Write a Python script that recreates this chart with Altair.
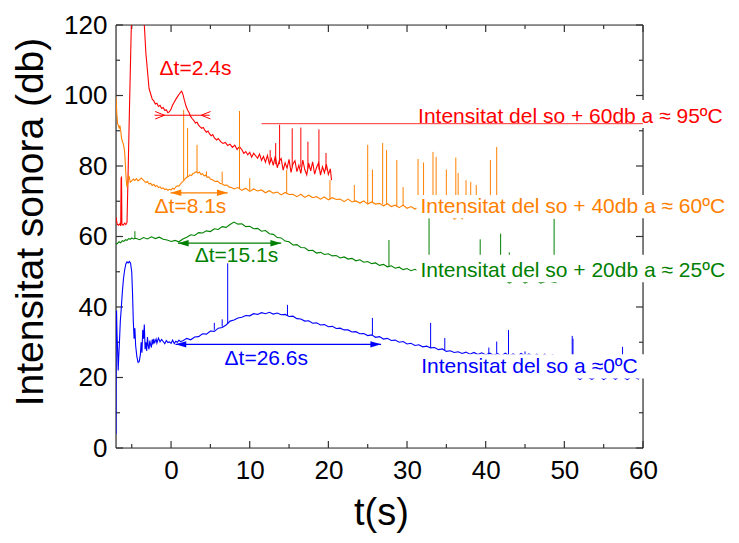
import altair as alt
import pandas as pd

# ---------------- data ----------------
# red: sound intensity + 60 dB at ~95 C
red_t = [-7.0, -6.85, -6.7, -6.5, -6.4, -6.35, -6.3, -6.25, -6.1, -5.9,
         -5.75, -5.6, -5.5, -5.3, -5.1, -4.9, -3.6, -3.4, -3.2, -3.0,
         -2.8, -2.6, -2.4, -2.2, -2.0, -1.8, -1.6, -1.4, -1.2, -1.0,
         -0.8, -0.6, -0.4, -0.2, 0.0, 0.2, 0.4, 0.6, 0.8, 1.0,
         1.2, 1.35, 1.5, 1.7, 1.9, 2.1, 2.3, 2.5, 2.7, 2.9,
         3.1, 3.3, 3.5, 3.7, 3.9, 4.1, 4.3, 4.5, 4.7, 4.9,
         5.1, 5.3, 5.5, 5.8, 6.0, 6.3, 6.6, 6.9, 7.2, 7.5,
         7.8, 8.1, 8.4, 8.7, 20.4]
red_y = [65.5, 63.5, 63.2, 63.6, 63.0, 76.5, 77.0, 63.5, 63.2, 63.8,
         63.4, 64.0, 74.0, 95.0, 115.0, 135.0, 135.0, 120.0, 112.0, 107.0,
         102.0, 100.5, 99.0, 98.5, 97.6, 97.8, 96.9, 97.2, 96.3, 96.6,
         95.8, 95.9, 95.1, 95.4, 96.2, 97.3, 98.1, 98.9, 99.6, 100.3,
         100.9, 101.2, 100.4, 98.6, 97.0, 95.9, 95.1, 94.0, 93.4, 92.9,
         92.2, 92.4, 91.6, 91.1, 90.7, 90.9, 90.1, 89.6, 89.9, 89.1,
         88.6, 88.9, 88.0, 87.4, 87.8, 86.9, 86.4, 86.7, 85.8, 86.2,
         85.3, 85.9, 84.7, 85.5, 76.0]
red_start2, red_step2 = 9.0, 0.25
red_y2 = [84.6, 83.6, 84.1, 83.2, 83.9, 82.5, 83.6, 82.9, 82.2, 83.4,
          81.6, 82.7, 81.1, 83.0, 80.6, 82.1, 80.2, 82.8, 79.5, 81.4,
          82.1, 78.8, 80.9, 79.4, 81.9, 78.2, 80.6, 81.5, 78.4, 80.2,
          77.9, 81.7, 79.0, 77.5, 80.8, 78.6, 81.2, 77.7, 79.6, 80.9,
          77.4, 79.8, 78.1, 80.5, 77.6, 79.2]

# orange: + 40 dB at ~60 C
orange_t = [-7.0, -6.9, -6.8, -6.7, -6.6, -6.5, -6.4, -6.3, -6.2, -6.1,
            -6.0, -5.9, -5.8, -5.7, -5.6, -5.5, -5.4, -5.3, -5.2,
            -5.0, -4.8, -4.6, -4.4, -4.2, -4.0, -3.8, -3.6, -3.4, -3.2,
            -3.0, -2.8, -2.6, -2.4, -2.2, -2.0, -1.8, -1.6, -1.4, -1.2,
            -1.0, -0.8, -0.6, -0.4, -0.2, 0.0, 0.2, 0.4, 0.6, 0.8,
            1.0, 1.2, 1.4, 1.6, 1.8, 2.0, 2.2, 2.4, 2.6, 2.8,
            3.0, 3.2, 3.4, 3.6, 3.8, 4.0, 4.2, 4.4, 4.6, 4.8, 5.0,
            5.3, 5.6, 5.9, 6.2, 6.5, 6.8, 7.1, 7.4, 7.7]
orange_y = [99.6, 95.0, 92.0, 91.5, 90.8, 91.5, 90.0, 88.0, 87.0, 86.5,
            85.5, 84.0, 80.0, 76.0, 74.0, 75.0, 77.2, 76.8, 75.4,
            75.8, 76.3, 75.9, 76.4, 75.8, 76.1, 76.6, 76.2, 75.7, 75.3,
            75.6, 74.9, 75.1, 74.5, 74.8, 74.2, 74.5, 73.9, 74.1, 73.6,
            73.8, 73.3, 73.5, 73.1, 73.4, 73.2, 73.7, 73.4, 74.1, 74.4,
            74.3, 74.9, 75.4, 75.8, 76.4, 76.8, 77.0, 77.5, 77.3, 77.9,
            78.1, 78.4, 78.0, 78.3, 77.6, 77.8, 77.2, 77.4, 76.8, 76.9, 76.3,
            76.0, 75.6, 75.7, 75.1, 74.9, 74.5, 74.6, 74.0, 73.9]
orange_start2, orange_step2 = 8.0, 0.5
orange_y2 = [73.5, 73.9, 73.1, 73.7, 72.8, 73.5, 72.9, 73.2, 72.4, 73.0,
             72.3, 72.6, 71.8, 72.5, 71.9, 72.0, 71.3, 72.0, 71.1, 71.7,
             71.0, 71.3, 70.6, 71.2, 70.4, 71.0, 70.5, 70.6, 69.9, 70.6,
             69.8, 70.1, 69.5, 70.1, 69.2, 69.8, 69.2, 69.4, 68.7, 69.3,
             68.5, 68.9, 68.2, 68.9, 68.0, 68.5, 67.8, 68.3, 67.5, 67.9,
             67.2, 67.8, 67.0, 67.3, 66.6, 67.0, 64.9, 66.7, 65.0, 66.4,
             65.8, 66.2, 65.6, 66.0, 65.5, 65.9, 65.4, 65.7, 65.3]

# green: + 20 dB at ~25 C
green_t = [-7.0, -6.8, -6.6, -6.4, -6.2, -6.0, -5.8, -5.6, -5.4, -5.2, -5.0, -4.8]
green_y = [57.8, 58.1, 58.5, 58.2, 58.8, 58.6, 59.1, 58.9, 59.4, 59.2, 59.6, 59.3]
green_start2, green_step2 = -4.5, 0.5
green_y2 = [59.5, 59.1, 59.7, 59.3, 59.9, 59.4, 59.8, 59.2, 59.0, 58.6,
            58.9, 58.5, 59.3, 59.8, 60.5, 60.3, 61.1, 61.0, 61.6, 61.4,
            62.2, 62.0, 62.8, 62.6, 63.4, 64.1, 63.5, 63.6, 62.8, 62.9,
            62.2, 62.3, 61.5, 61.7, 60.8, 60.6, 59.7, 59.6, 58.7, 58.5,
            57.6, 57.7, 56.9, 56.8, 56.0, 56.1, 55.3, 55.5, 54.9, 55.1,
            54.5, 54.6, 53.9, 54.2, 53.6, 53.8, 53.1, 53.4, 52.7, 52.9,
            52.3, 52.5, 51.8, 52.1, 51.4, 51.7, 51.0, 51.3, 50.6, 50.9,
            50.3, 50.7, 50.1, 50.4, 49.9, 50.2, 49.6, 49.9, 49.3, 49.6,
            49.1, 49.3, 48.8, 49.0, 48.5, 48.8, 48.3, 48.6, 48.1, 48.4,
            47.9, 48.2, 47.7, 48.0, 47.5, 46.8, 47.4, 47.6, 47.6, 46.8,
            47.3, 47.5, 47.5, 46.8, 47.2, 47.4, 47.1, 46.9]

# blue: at ~0 C
blue_t = [-7.0, -6.97, -6.93, -6.88, -6.8, -6.72, -6.65, -6.55, -6.45, -6.35,
          -6.2, -6.05, -5.9, -5.75, -5.6, -5.45, -5.3, -5.15, -5.0, -4.9,
          -4.8, -4.7, -4.6, -4.5, -4.35, -4.2, -4.05, -3.9, -3.8, -3.7,
          -3.6, -3.5, -3.4, -3.3, -3.2, -3.1, -3.0, -2.9, -2.8, -2.7,
          -2.6, -2.5, -2.4, -2.3, -2.2, -2.1, -2.0, -1.9, -1.8, -1.6,
          -1.4, -1.2, -1.0, -0.8, -0.6, -0.4, -0.2, 0.0, 0.2, 0.4,
          0.6, 0.8, 1.0, 1.2]
blue_y = [4.0, 37.0, 39.0, 33.0, 28.0, 22.0, 26.0, 30.6, 36.0, 39.0,
          44.0, 48.0, 50.5, 52.2, 52.8, 52.5, 52.9, 52.4, 50.0, 44.0,
          36.0, 31.0, 34.0, 29.0, 26.0, 24.3, 24.5, 26.5, 30.0, 27.0,
          33.5, 31.0, 35.0, 28.0, 30.0, 27.5, 31.5, 29.0, 28.0, 30.5,
          29.3, 28.5, 30.8, 29.4, 31.0, 29.7, 30.4, 30.9, 29.8, 31.2,
          30.1, 30.8, 30.2, 29.6, 30.5, 29.9, 30.1, 29.7, 30.6, 29.6,
          30.3, 30.0, 30.6, 30.2]
blue_start2, blue_step2 = 1.5, 0.5
blue_y2 = [30.4, 31.1, 30.7, 31.5, 31.6, 32.4, 32.3, 33.2, 33.1, 34.0,
           34.2, 34.9, 36.0, 36.3, 36.9, 37.1, 37.6, 37.5, 38.1, 37.9,
           38.4, 38.1, 38.5, 38.0, 38.3, 37.8, 37.9, 37.3, 37.4, 36.7,
           36.6, 36.0, 36.1, 35.4, 35.5, 34.9, 35.0, 34.4, 34.5, 33.9,
           34.0, 33.5, 33.5, 32.9, 33.0, 32.4, 32.5, 31.9, 32.1, 31.4,
           31.6, 30.9, 31.1, 30.5, 30.6, 30.0, 30.2, 29.5, 29.7, 29.1,
           29.3, 28.7, 28.9, 28.4, 28.5, 27.9, 28.1, 27.4, 27.6, 27.1,
           27.3, 26.8, 27.2, 26.6, 27.1, 26.5, 27.0, 26.4, 26.9, 26.3,
           26.8, 26.2, 26.9, 26.1, 26.7, 26.0, 26.8, 26.1, 26.7, 25.9,
           26.6, 25.8, 26.6, 25.7, 26.5, 25.6, 23.0, 21.0, 20.6, 20.3,
           20.2, 19.4, 20.3, 20.1, 19.5, 20.2, 20.3, 19.4, 20.1, 20.2,
           19.5, 20.3, 20.1, 19.4, 20.2, 20.0, 19.5]

# narrow spikes: time, base, top, series colour
spike_t = [13.3, 13.8, 15.4, 16.5, 17.4, 18.8, 19.7, 12.6,
           1.6, 2.1, 3.3, 4.5, 6.5, 8.7, 10.0, 14.7, 20.2, 23.3, 25.0, 25.6,
           26.9, 27.4, 28.7, 29.5, 31.4, 32.1, 33.3, 33.7, 35.0, 36.2, 36.5,
           37.5, 38.1, 38.8, 40.6, 41.4,
           -4.6, 27.7, 32.8, 39.3, 41.9, 43.0, 48.7,
           7.2, 14.8, 25.6, 33.0, 34.8, 40.4, 41.4, 42.9, 45.0, 51.0, 51.1, 57.4,
           5.5, 6.5]
spike_base = [80.5, 80.5, 79.8, 79.6, 79.3, 79.0, 78.8, 81.0,
              76.0, 76.8, 78.2, 77.0, 75.0, 73.5, 73.1, 72.2, 70.6, 69.9, 69.3, 69.6,
              69.2, 69.2, 68.4, 68.6, 68.2, 67.7, 67.4, 67.6, 66.8, 64.9, 66.7,
              66.4, 65.9, 66.1, 65.6, 65.5,
              59.5, 51.4, 50.2, 48.4, 47.9, 47.0, 46.9,
              35.2, 37.5, 32.1, 28.4, 27.7, 26.4, 26.8, 26.2, 26.1, 20.3, 20.3, 20.0,
              33.5, 34.4]
spike_top = [86.5, 91.7, 90.7, 90.9, 86.9, 90.4, 83.7, 84.5,
             95.9, 90.8, 86.0, 78.5, 78.4, 95.6, 76.6, 78.9, 76.0, 74.6, 86.0, 79.0,
             86.5, 84.5, 81.7, 74.0, 82.0, 81.0, 84.0, 82.6, 79.0, 82.4, 78.0,
             76.0, 75.5, 74.6, 81.7, 85.4,
             61.5, 59.0, 65.2, 59.2, 60.8, 55.5, 65.0,
             52.4, 40.6, 36.9, 35.5, 31.2, 28.5, 30.2, 33.5, 27.4, 31.8, 31.0, 28.7,
             35.5, 36.5]
spike_col = (["#FF0000"] * 8 + ["#FF8000"] * 28 + ["#008000"] * 7
             + ["#0000FF"] * 12 + ["#0000FF"] * 2)

# tick values
x_major = [0, 10, 20, 30, 40, 50, 60]
x_minor = [-5, 5, 15, 25, 35, 45, 55]
y_major = [0, 20, 40, 60, 80, 100, 120]
y_minor = [10, 30, 50, 70, 90, 110]

# labels
lab_text = ["\u0394t=2.4s", "Intensitat del so + 60db a \u2248 95\u00baC",
            "\u0394t=8.1s", "Intensitat del so + 40db a \u2248 60\u00baC",
            "\u0394t=15.1s", "Intensitat del so + 20db a \u2248 25\u00baC",
            "\u0394t=26.6s", "Intensitat del so a \u22480\u00baC"]
lab_t = [-1.46, 31.4, -2.1, 31.7, 3.0, 31.7, 6.8, 31.8]
lab_y = [105.8, 92.3, 66.6, 66.6, 52.9, 48.6, 23.5, 21.2]
lab_col = ["#FF0000", "#FF0000", "#FF8000", "#FF8000",
           "#008000", "#008000", "#0000FF", "#0000FF"]

# white backgrounds behind the right-hand labels
box_t1 = [31.2, 31.2, 31.2, 31.5]
box_t2 = [72.0, 72.0, 72.0, 72.0]
box_y1 = [90.8, 65.2, 47.0, 19.7]
box_y2 = [98.7, 71.8, 54.8, 26.6]

# double arrows (delta t)
arrow_t1 = [-0.06, 0.87, 0.57]
arrow_t2 = [7.2, 14.0, 26.7]
arrow_y = [72.4, 58.1, 29.4]
arrow_col = ["#FF8000", "#008000", "#0000FF"]

# red marker line with inward chevrons, red leader line
red_bar_t = [-2.1, 4.9]
red_bar_y = 94.4
red_chev_t = [-0.83, 3.84]
red_lead_t = [11.5, 60.0]
red_lead_y = 92.0

# ---------------- build tables ----------------
def grid(start, step, vals):
    return [round(start + i * step, 4) for i in range(len(vals))]

parts = [
    pd.DataFrame({"t": red_t, "y": red_y, "s": "#FF0000"}),
    pd.DataFrame({"t": grid(red_start2, red_step2, red_y2), "y": red_y2, "s": "#FF0000"}),
    pd.DataFrame({"t": orange_t, "y": orange_y, "s": "#FF8000"}),
    pd.DataFrame({"t": grid(orange_start2, orange_step2, orange_y2), "y": orange_y2, "s": "#FF8000"}),
    pd.DataFrame({"t": green_t, "y": green_y, "s": "#008000"}),
    pd.DataFrame({"t": grid(green_start2, green_step2, green_y2), "y": green_y2, "s": "#008000"}),
    pd.DataFrame({"t": blue_t, "y": blue_y, "s": "#0000FF"}),
    pd.DataFrame({"t": grid(blue_start2, blue_step2, blue_y2), "y": blue_y2, "s": "#0000FF"}),
]
series = pd.concat(parts, ignore_index=True)
spikes = pd.DataFrame({"t": spike_t, "y": spike_base, "y2": spike_top, "s": spike_col})
labels = pd.DataFrame({"t": lab_t, "y": lab_y, "txt": lab_text, "c": lab_col})
boxes = pd.DataFrame({"t": box_t1, "t2": box_t2, "y": box_y1, "y2": box_y2})
arrows = pd.DataFrame({"t": arrow_t1, "t2": arrow_t2, "y": arrow_y, "c": arrow_col})
heads_l = pd.DataFrame({"t": arrow_t1, "y": arrow_y, "c": arrow_col})
heads_r = pd.DataFrame({"t": arrow_t2, "y": arrow_y, "c": arrow_col})
red_bar = pd.DataFrame({"t": [red_bar_t[0]], "t2": [red_bar_t[1]], "y": [red_bar_y]})
red_lead = pd.DataFrame({"t": [red_lead_t[0]], "t2": [red_lead_t[1]], "y": [red_lead_y]})
chev_l = pd.DataFrame({"t": [red_chev_t[0]], "y": [red_bar_y]})
chev_r = pd.DataFrame({"t": [red_chev_t[1]], "y": [red_bar_y]})
one = pd.DataFrame({"k": [0]})

W, H = 527, 423
AX = "#333333"
FONT = "Liberation Sans"

xscale = alt.Scale(domain=[-7, 60], nice=False, zero=False)
yscale = alt.Scale(domain=[0, 120], nice=False, zero=False)
xaxis = alt.Axis(values=x_major, labelFontSize=26, labelPadding=9, domain=False,
                 ticks=False, tickSize=0, grid=False, labelFlush=False,
                 labelColor="black", labelFont=FONT,
                 title="t(s)", titleFontSize=38, titleFontWeight="normal",
                 titleFont=FONT, titleColor="black", titleX=265, titleY=76,
                 titleBaseline="alphabetic", titleAlign="center")
yaxis = alt.Axis(values=y_major, labelFontSize=26, labelPadding=9, domain=False,
                 ticks=False, tickSize=0, grid=False, labelFlush=False,
                 labelColor="black", labelFont=FONT,
                 title="Intensitat sonora (db)", titleFontSize=39,
                 titleFontWeight="normal", titleFont=FONT, titleColor="black",
                 titleAngle=270, titleX=-74, titleY=196.5,
                 titleBaseline="alphabetic", titleAlign="center")

X = alt.X("t:Q", scale=xscale, axis=xaxis)
Y = alt.Y("y:Q", scale=yscale, axis=yaxis)

layers = []
# frame
for enc in [dict(x=alt.value(0), y=alt.value(0), y2=alt.value(H)),
            dict(x=alt.value(W), y=alt.value(0), y2=alt.value(H)),
            dict(x=alt.value(0), x2=alt.value(W), y=alt.value(0)),
            dict(x=alt.value(0), x2=alt.value(W), y=alt.value(H))]:
    layers.append(alt.Chart(one).mark_rule(color=AX, strokeWidth=1.2).encode(**enc))

# inward ticks
for vals, ln in [(x_major, 7), (x_minor, 4)]:
    d = pd.DataFrame({"t": vals})
    layers.append(alt.Chart(d).mark_rule(color=AX, strokeWidth=1.2).encode(
        x=X, y=alt.value(H), y2=alt.value(H - ln)))
    layers.append(alt.Chart(d).mark_rule(color=AX, strokeWidth=1.2).encode(
        x=X, y=alt.value(0), y2=alt.value(ln)))
for vals, ln in [(y_major, 7), (y_minor, 4)]:
    d = pd.DataFrame({"y": vals})
    layers.append(alt.Chart(d).mark_rule(color=AX, strokeWidth=1.2).encode(
        y=Y, x=alt.value(0), x2=alt.value(ln)))
    layers.append(alt.Chart(d).mark_rule(color=AX, strokeWidth=1.2).encode(
        y=Y, x=alt.value(W - ln), x2=alt.value(W)))

# series
layers.append(alt.Chart(series).mark_line(clip=True, strokeWidth=1.1).encode(
    x=X, y=Y, color=alt.Color("s:N", scale=None), detail="s:N"))
layers.append(alt.Chart(spikes).mark_rule(clip=True, strokeWidth=1).encode(
    x=X, y=Y, y2="y2:Q", color=alt.Color("s:N", scale=None)))

# label backgrounds
layers.append(alt.Chart(boxes).mark_rect(color="white", opacity=1).encode(
    x=X, x2="t2:Q", y=Y, y2="y2:Q"))

# red markers
layers.append(alt.Chart(red_lead).mark_rule(color="#FF3030", strokeWidth=1).encode(
    x=X, x2="t2:Q", y=Y))
layers.append(alt.Chart(red_bar).mark_rule(color="#FF0000", strokeWidth=1).encode(
    x=X, x2="t2:Q", y=Y))
layers.append(alt.Chart(chev_l).mark_point(shape="M-1,-0.4L0,0L-1,0.4", filled=False,
                                           size=346, strokeWidth=1, color="#FF0000",
                                           opacity=1).encode(x=X, y=Y))
layers.append(alt.Chart(chev_r).mark_point(shape="M1,-0.4L0,0L1,0.4", filled=False,
                                           size=346, strokeWidth=1, color="#FF0000",
                                           opacity=1).encode(x=X, y=Y))

# double arrows
layers.append(alt.Chart(arrows).mark_rule(strokeWidth=1.2).encode(
    x=X, x2="t2:Q", y=Y, color=alt.Color("c:N", scale=None)))
layers.append(alt.Chart(heads_l).mark_point(shape="M0,0L1,-0.3L1,0.3Z", filled=True,
                                            size=460, opacity=1).encode(
    x=X, y=Y, color=alt.Color("c:N", scale=None)))
layers.append(alt.Chart(heads_r).mark_point(shape="M0,0L-1,-0.3L-1,0.3Z", filled=True,
                                            size=460, opacity=1).encode(
    x=X, y=Y, color=alt.Color("c:N", scale=None)))

# texts
layers.append(alt.Chart(labels).mark_text(align="left", baseline="alphabetic",
                                          fontSize=21, font=FONT).encode(
    x=X, y=Y, text="txt:N", color=alt.Color("c:N", scale=None)))

chart = alt.layer(*layers).properties(
    width=W, height=H,
    autosize=alt.AutoSizeParams(type="none"),
    padding={"left": 108, "top": 17, "right": 88, "bottom": 87},
).configure_view(stroke=None).configure(font=FONT)

chart.save("out.html", embed_options={"renderer": "svg", "actions": False})
